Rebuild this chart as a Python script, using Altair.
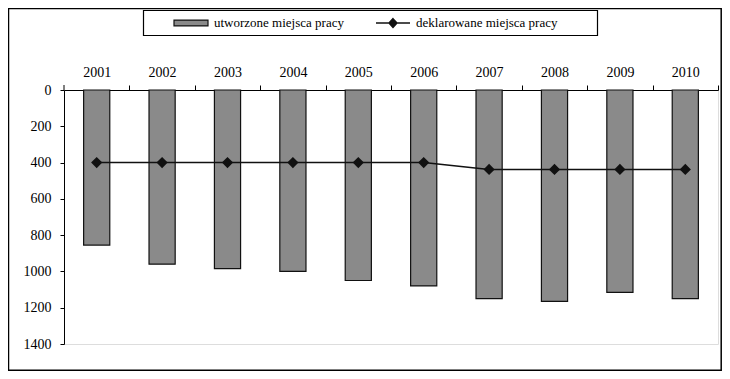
import altair as alt
import pandas as pd

years = ["2001", "2002", "2003", "2004", "2005", "2006", "2007", "2008", "2009", "2010"]
created = [855, 960, 985, 1000, 1050, 1080, 1150, 1165, 1115, 1150]
declared = [400, 400, 400, 400, 400, 400, 438, 438, 438, 438]
bar_name = "utworzone miejsca pracy"
line_name = "deklarowane miejsca pracy"
y_ticks = [0, 200, 400, 600, 800, 1000, 1200, 1400]

df = pd.DataFrame({"year": years, "created": created, "declared": declared})

FONT = "Liberation Serif"
W, H = 654, 254
GRAY = "#8a8a8a"
INK = "#111111"
STEP = W / 10

xaxis = alt.Axis(
    orient="top", title=None, labelAngle=0, tickOffset=STEP / 2, labelOffset=-STEP / 2,
    tickSize=5, labelPadding=6, labelFontSize=14, labelFont=FONT, labelColor="black",
    domainColor="black", tickColor="black",
)
xscale = alt.Scale(paddingInner=0.6, paddingOuter=0.3)
yscale = alt.Scale(domain=[0, 1400], reverse=True, nice=False)
yaxis = alt.Axis(
    orient="left", title=None, values=y_ticks, format="d", labelOverlap=False,
    tickSize=4, labelPadding=9, labelFontSize=14, labelFont=FONT, labelColor="black",
    grid=False, domainColor="black", tickColor="black",
)

leg_common = dict(
    title=None, orient="none", direction="horizontal", padding=0,
    labelFont=FONT, labelFontSize=13, labelColor="black",
    symbolSize=1156, clipHeight=14, labelOffset=5, symbolOpacity=1,
)

bars = alt.Chart(df).transform_calculate(series=f"'{bar_name}'").mark_bar(
    stroke=INK, strokeWidth=1.2
).encode(
    x=alt.X("year:N", sort=years, scale=xscale, axis=xaxis),
    y=alt.Y("created:Q", scale=yscale, axis=yaxis),
    fill=alt.Fill(
        "series:N",
        scale=alt.Scale(domain=[bar_name], range=[GRAY]),
        legend=alt.Legend(
            legendX=109, legendY=-74,
            symbolType="M-1,-0.17H1V0.17H-1Z",
            symbolStrokeColor=INK, symbolStrokeWidth=1.2,
            **leg_common,
        ),
    ),
)

line = alt.Chart(df).transform_calculate(series=f"'{line_name}'").mark_line(
    strokeWidth=1.5,
    point=alt.OverlayMarkDef(shape="diamond", size=70, filled=True, fill=INK, opacity=1),
).encode(
    x=alt.X("year:N", sort=years, scale=xscale, axis=xaxis),
    y=alt.Y("declared:Q", scale=yscale, axis=yaxis),
    stroke=alt.Stroke(
        "series:N",
        scale=alt.Scale(domain=[line_name], range=[INK]),
        legend=alt.Legend(
            legendX=311, legendY=-74,
            symbolType="M-1,0H1M0,-0.26L0.24,0L0,0.26L-0.24,0Z",
            symbolFillColor=INK, symbolStrokeWidth=1.3,
            **leg_common,
        ),
    ),
)

first_tick = alt.Chart(alt.Data(values=[{"a": 1}])).mark_rule(
    stroke="black", strokeWidth=1, clip=False
).encode(
    x=alt.value(0), y=alt.value(-5), y2=alt.value(0)
)

legend_box = alt.Chart(alt.Data(values=[{"a": 1}])).mark_rect(
    fill=None, stroke="black", strokeWidth=1.2, clip=False
).encode(
    x=alt.value(79.5), x2=alt.value(533.5), y=alt.value(-79.5), y2=alt.value(-54.5)
)

frame = alt.Chart(alt.Data(values=[{"a": 1}])).mark_rect(
    fill=None, stroke="black", strokeWidth=1.5, clip=False
).encode(
    x=alt.value(-55.5), x2=alt.value(W + 3.2), y=alt.value(-81.5), y2=alt.value(H + 26.2)
)

chart = alt.layer(bars, line, first_tick, legend_box, frame).resolve_scale(
    fill="independent", stroke="independent"
).properties(
    width=W, height=H,
    autosize=alt.AutoSizeParams(type="none"),
    padding={"left": 56, "top": 82, "right": 4, "bottom": 27},
).configure_view(stroke="#999999", strokeWidth=1.5).configure(background="white")

chart.save("out.html", embed_options={"renderer": "svg", "actions": False})
